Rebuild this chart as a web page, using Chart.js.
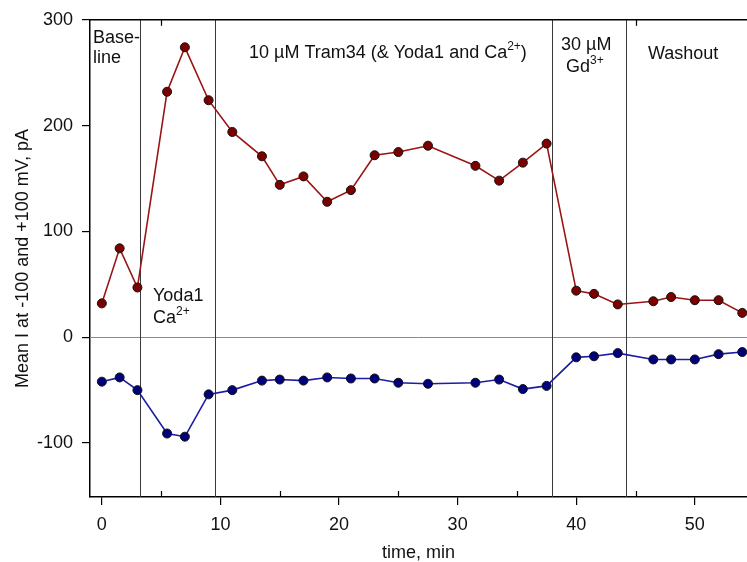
<!DOCTYPE html>
<html>
<head>
<meta charset="utf-8">
<script src="https://cdn.jsdelivr.net/npm/chart.js@4/dist/chart.umd.min.js"></script>
<style>
  html, body { margin: 0; padding: 0; background: #fff; overflow: hidden; }
  canvas { display: block; }
</style>
</head>
<body>
<canvas id="chart" width="747" height="562"></canvas>
<script>
// time points (min), shared by both traces
const timeMin = [0, 1.5, 3, 5.5, 7, 9, 11, 13.5, 15, 17, 19, 21, 23, 25, 27.5, 31.5, 33.5, 35.5, 37.5, 40, 41.5, 43.5, 46.5, 48, 50, 52, 54];
// mean current at +100 mV (pA)
const currentPlus100 = [32, 84, 47, 232, 274, 224, 194, 171, 144, 152, 128, 139, 172, 175, 181, 162, 148, 165, 183, 44, 41, 31, 34, 38, 35, 35, 23];
// mean current at -100 mV (pA)
const currentMinus100 = [-42, -38, -50, -91, -94, -54, -50, -41, -40, -41, -38, -39, -39, -43, -44, -43, -40, -49, -46, -19, -18, -15, -21, -21, -21, -16, -14];
// solution change times (min)
const phaseBounds = [3.2, 9.53, 37.94, 44.18];
// tick labels
const xTicks = [0, 10, 20, 30, 40, 50];
const xMinorTicks = [5, 15, 25, 35, 45];
const yTicks = [-100, 0, 100, 200, 300];

const FONT = "'Liberation Sans', Arial, sans-serif";

function toPoints(xs, ys) {
    return xs.map(function(x, i) { return { x: x, y: ys[i] }; });
}

// 上付き文字を含むテキストを描画
function drawRich(ctx, x, y, parts) {
    let cx = x;
    parts.forEach(function(p) {
        if (p[1]) {
            ctx.font = '12px ' + FONT;
            ctx.fillText(p[0], cx, y - 8);
        } else {
            ctx.font = '18px ' + FONT;
            ctx.fillText(p[0], cx, y);
        }
        cx += ctx.measureText(p[0]).width;
    });
}

const decorations = {
    id: 'decorations',
    beforeDatasetsDraw(chart) {
        const ctx = chart.ctx;
        const area = chart.chartArea;
        const xs = chart.scales.x;
        const ys = chart.scales.y;
        ctx.save();
        // zero line
        ctx.strokeStyle = '#8a8a8a';
        ctx.lineWidth = 1;
        const y0 = Math.round(ys.getPixelForValue(0)) + 0.5;
        ctx.beginPath();
        ctx.moveTo(area.left, y0);
        ctx.lineTo(area.right, y0);
        ctx.stroke();
        // phase boundaries
        ctx.strokeStyle = '#3a3a3a';
        phaseBounds.forEach(function(t) {
            const px = Math.round(xs.getPixelForValue(t)) + 0.5;
            ctx.beginPath();
            ctx.moveTo(px, area.top);
            ctx.lineTo(px, area.bottom);
            ctx.stroke();
        });
        ctx.restore();
    },
    afterDraw(chart) {
        const ctx = chart.ctx;
        const area = chart.chartArea;
        const xs = chart.scales.x;
        ctx.save();
        // top frame
        ctx.strokeStyle = '#000';
        ctx.lineWidth = 1.5;
        ctx.beginPath();
        ctx.moveTo(area.left, area.top);
        ctx.lineTo(area.right, area.top);
        ctx.stroke();
        // minor ticks (inside)
        ctx.lineWidth = 1.2;
        xMinorTicks.forEach(function(t) {
            const px = Math.round(xs.getPixelForValue(t)) + 0.5;
            ctx.beginPath();
            ctx.moveTo(px, area.bottom);
            ctx.lineTo(px, area.bottom - 6);
            ctx.stroke();
        });
        [5, 45].forEach(function(t) {
            const px = Math.round(xs.getPixelForValue(t)) + 0.5;
            ctx.beginPath();
            ctx.moveTo(px, area.top);
            ctx.lineTo(px, area.top + 6);
            ctx.stroke();
        });
        // phase labels
        ctx.fillStyle = '#111';
        ctx.textBaseline = 'alphabetic';
        ctx.textAlign = 'left';
        drawRich(ctx, 93, 43, [['Base-', false]]);
        drawRich(ctx, 93, 63, [['line', false]]);
        drawRich(ctx, 249, 58, [['10 µM Tram34 (& Yoda1 and Ca', false], ['2+', true], [')', false]]);
        drawRich(ctx, 561, 50, [['30 µM', false]]);
        drawRich(ctx, 566, 72, [['Gd', false], ['3+', true]]);
        drawRich(ctx, 648, 59, [['Washout', false]]);
        drawRich(ctx, 153, 301, [['Yoda1', false]]);
        drawRich(ctx, 153, 323, [['Ca', false], ['2+', true]]);
        ctx.restore();
    }
};

const ctx = document.getElementById('chart').getContext('2d');
new Chart(ctx, {
    type: 'line',
    data: {
        datasets: [
            {
                label: '+100 mV',
                data: toPoints(timeMin, currentPlus100),
                borderColor: '#9a1414',
                borderWidth: 1.6,
                backgroundColor: '#7d0000',
                pointBackgroundColor: '#7d0000',
                pointBorderColor: '#111',
                pointBorderWidth: 1,
                pointRadius: 4.5,
                tension: 0,
            },
            {
                label: '-100 mV',
                data: toPoints(timeMin, currentMinus100),
                borderColor: '#1c1ca6',
                borderWidth: 1.6,
                backgroundColor: '#00007d',
                pointBackgroundColor: '#00007d',
                pointBorderColor: '#111',
                pointBorderWidth: 1,
                pointRadius: 4.5,
                tension: 0,
            }
        ]
    },
    options: {
        responsive: false,
        animation: false,
        layout: { autoPadding: false, padding: { top: 18, right: 0, bottom: 0, left: 0 } },
        plugins: {
            legend: { display: false },
            tooltip: { enabled: false }
        },
        scales: {
            x: {
                type: 'linear',
                min: -1,
                max: 54.4,
                afterBuildTicks: function(scale) {
                    scale.ticks = xTicks.map(function(v) { return { value: v }; });
                },
                afterFit: function(scale) {
                    scale.height = 65;
                    scale.paddingLeft = 0;
                    scale.paddingRight = 0;
                },
                grid: { drawOnChartArea: false, drawTicks: true, tickLength: 8, color: '#000', lineWidth: 1.2 },
                border: { display: true, color: '#000', width: 1.5 },
                ticks: { color: '#111', font: { family: FONT, size: 18 }, padding: 9, maxRotation: 0 },
                title: { display: true, text: 'time, min', color: '#111', font: { family: FONT, size: 18 }, padding: { top: 0, bottom: -2 } }
            },
            y: {
                type: 'linear',
                min: -151,
                max: 300,
                afterBuildTicks: function(scale) {
                    scale.ticks = yTicks.map(function(v) { return { value: v }; });
                },
                afterFit: function(scale) { scale.width = 90; },
                grid: { drawOnChartArea: false, drawTicks: true, tickLength: 8, color: '#000', lineWidth: 1.2 },
                border: { display: true, color: '#000', width: 1.5 },
                ticks: { color: '#111', font: { family: FONT, size: 18 }, padding: 9 },
                title: { display: true, text: 'Mean I at -100 and +100 mV, pA', color: '#111', font: { family: FONT, size: 18 }, padding: { top: 12, bottom: 0 } }
            }
        }
    },
    plugins: [decorations]
});
</script>
</body>
</html>
